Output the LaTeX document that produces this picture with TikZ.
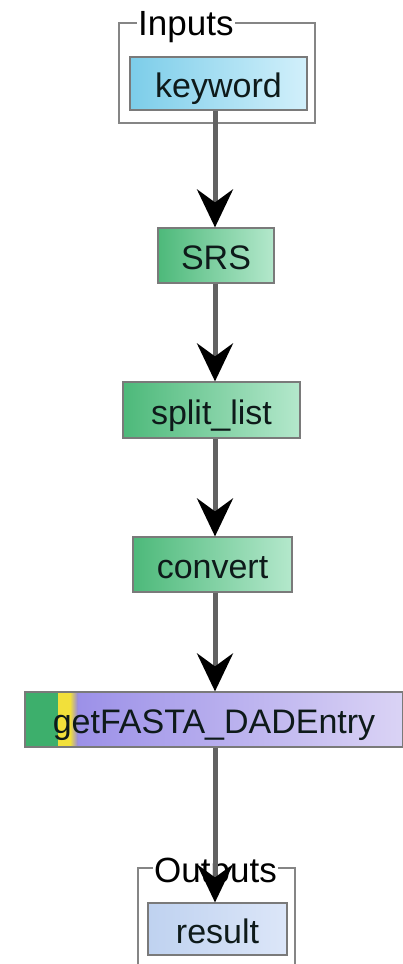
\documentclass[tikz,border=0pt]{standalone}
\usepackage{fontspec}
\setmainfont{Liberation Sans}
\usetikzlibrary{arrows.meta}

\definecolor{framegray}{HTML}{858585}
\definecolor{boxedge}{HTML}{7A7A7A}
\definecolor{inkdark}{HTML}{0E1A1A}
\definecolor{linkgray}{HTML}{626262}
\definecolor{inL}{HTML}{7CCDE9}
\definecolor{inR}{HTML}{D2F0FB}
\definecolor{stepL}{HTML}{4DB97A}
\definecolor{stepR}{HTML}{B4E8CC}
\definecolor{svcG}{HTML}{3DAF6C}
\definecolor{svcY}{HTML}{F2E03A}
\definecolor{svcL}{HTML}{9286E6}
\definecolor{svcR}{HTML}{DAD3F5}
\definecolor{outL}{HTML}{BFD2F0}
\definecolor{outR}{HTML}{DCE6F8}

\tikzset{
  boxbase/.style={draw=boxedge, line width=1.2pt, inner sep=0pt,
    text=inkdark, font=\fontsize{34}{38}\selectfont,
    text height=34pt, text depth=6pt},
  inputbox/.style={boxbase, left color=inL, right color=inR},
  stepbox/.style={boxbase, left color=stepL, right color=stepR},
  outputbox/.style={boxbase, left color=outL, right color=outR},
  servicebox/.style={boxbase, left color=svcL, right color=svcR,
    path picture={
      \fill[svcG] (path picture bounding box.north west) rectangle
        ++(33pt,-60pt);
      \fill[svcY] ([xshift=33pt]path picture bounding box.north west)
        rectangle ++(12pt,-60pt);
      \shade[left color=svcY, right color=svcL]
        ([xshift=45pt]path picture bounding box.north west)
        rectangle ++(8pt,-60pt);
    }},
  groupframe/.style={draw=framegray, line width=1.5pt},
  grouplabel/.style={fill=white, inner sep=1pt, text=black,
    font=\fontsize{35}{38}\selectfont},
  link/.style={draw=linkgray, line width=5pt,
    -{Stealth[length=38pt, width=36pt, inset=13pt, color=black]}},
}

\begin{document}
\begin{tikzpicture}[x=1pt, y=-1pt]
  \useasboundingbox[fill=white] (0,0) rectangle (403,964);

  % vertical axis that all connectors follow
  \coordinate (spine) at (215,0);

  % input group
  \draw[groupframe] (119,23) rectangle (315,123);
  \node[grouplabel, anchor=base west] (inlabel) at (137,35) {Inputs};
  \node[inputbox, minimum width=177pt, minimum height=53pt]
    (keyword) at (218.5,83.5) {keyword};

  % workflow steps
  \node[stepbox, minimum width=116pt, minimum height=55pt]
    (srs) at (216,255.5) {SRS};
  \node[stepbox, minimum width=177pt, minimum height=56pt]
    (split) at (211.5,410) {split\_list};
  \node[stepbox, minimum width=159pt, minimum height=55pt]
    (convert) at (212.5,564.5) {convert};
  \node[servicebox, minimum width=378pt, minimum height=55pt]
    (fasta) at (214,719.5) {getFASTA\_DADEntry};

  % output group (open at the bottom edge)
  \draw[groupframe] (138,964) -- (138,868) -- (295,868) -- (295,964);
  \node[grouplabel, anchor=base west] (outlabel) at (153,882) {Outputs};
  \node[outputbox, minimum width=139pt, minimum height=52pt]
    (result) at (217.5,929) {result};

  % connectors
  \draw[link] (keyword.south -| spine) -- (srs.north -| spine);
  \draw[link] (srs.south -| spine) -- (split.north -| spine);
  \draw[link] (split.south -| spine) -- (convert.north -| spine);
  \draw[link] (convert.south -| spine) -- (fasta.north -| spine);
  \draw[link] (fasta.south -| spine) -- (result.north -| spine);
\end{tikzpicture}
\end{document}
